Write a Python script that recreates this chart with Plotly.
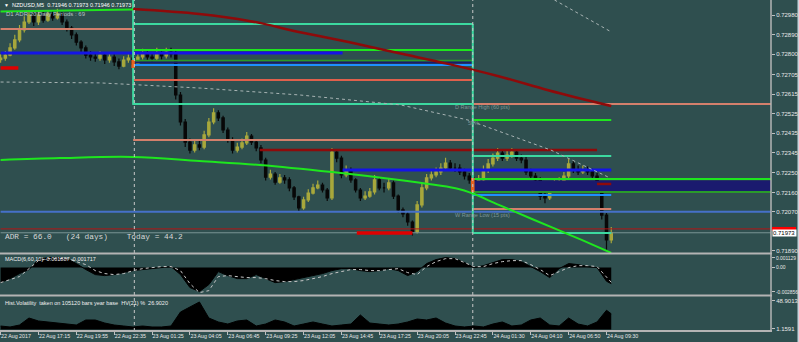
import plotly.graph_objects as go

# ---------------- data ----------------
symbol_header = "NZDUSD,M5  0.71946 0.71973 0.71946 0.71973"
adr_header = "D1 ADR 20 Daily Periods : 69"
adr_text = "ADR = 66.0   (24 days)    Today = 44.2"
macd_header = "MACD(6,60,10) -0.001887 -0.001717"
hv_header = "Hist.Volatility  taken on 105120 bars year base  HV(21) %  26.9020"

time_tick_bars = [0, 32, 64, 96, 128, 160, 192, 224, 256, 288, 320, 352, 384, 416, 448, 480, 512]
time_tick_text = ["22 Aug 2017", "22 Aug 17:15", "22 Aug 19:55", "22 Aug 22:35", "23 Aug 01:25",
                  "23 Aug 04:05", "23 Aug 06:45", "23 Aug 09:25", "23 Aug 12:05", "23 Aug 14:45",
                  "23 Aug 17:25", "23 Aug 20:05", "23 Aug 22:45", "24 Aug 01:30", "24 Aug 04:10",
                  "24 Aug 06:50", "24 Aug 09:30"]
day_separator_bars = [113, 399]

price_ticks = [0.72980, 0.72890, 0.72800, 0.72705, 0.72615, 0.72525, 0.72435, 0.72345,
               0.72250, 0.72160, 0.72070, 0.71890]
macd_ticks = [0.001129, 0.0, -0.002856]
macd_tick_text = ["0.001129", "0.00", "-0.002856"]
hv_ticks = [48.9013, 1.1591]
hv_tick_text = ["48.9013", "1.1591"]
bid_price = 0.71973
ask_price = 0.71991

candle_bars = list(range(0, 520, 4))
first_open = 0.72775
closes = [0.72782, 0.72796, 0.72829, 0.72866, 0.72912, 0.72949, 0.72981, 0.72949, 0.72981, 0.72958,
          0.72986, 0.72968, 0.72986, 0.72949, 0.72921, 0.72889, 0.72856, 0.72829, 0.72796, 0.72787,
          0.72782, 0.72796, 0.72773, 0.72787, 0.72764, 0.72745, 0.72773, 0.72782, 0.72754, 0.72787,
          0.72801, 0.72787, 0.72782, 0.72805, 0.72792, 0.72810, 0.72801, 0.72611, 0.72486, 0.72393,
          0.72356, 0.72380, 0.72370, 0.72426, 0.72486, 0.72528, 0.72505, 0.72449, 0.72403, 0.72356,
          0.72370, 0.72389, 0.72421, 0.72393, 0.72366, 0.72310, 0.72231, 0.72245, 0.72208, 0.72227,
          0.72218, 0.72181, 0.72139, 0.72088, 0.72125, 0.72157, 0.72181, 0.72194, 0.72171, 0.72134,
          0.72347, 0.72319, 0.72241, 0.72264, 0.72218, 0.72171, 0.72134, 0.72143, 0.72162, 0.72218,
          0.72181, 0.72181, 0.72204, 0.72143, 0.72079, 0.72060, 0.72023, 0.71977, 0.72102, 0.72181,
          0.72227, 0.72241, 0.72255, 0.72273, 0.72296, 0.72273, 0.72273, 0.72255, 0.72236, 0.72218,
          0.72194, 0.72218, 0.72264, 0.72292, 0.72319, 0.72342, 0.72319, 0.72333, 0.72347, 0.72319,
          0.72310, 0.72255, 0.72236, 0.72218, 0.72143, 0.72134, 0.72181, 0.72204, 0.72208, 0.72236,
          0.72292, 0.72264, 0.72255, 0.72264, 0.72255, 0.72236, 0.72181, 0.72055, 0.71940, 0.71973]
highs = [0.72800, 0.72815, 0.72850, 0.72890, 0.72935, 0.72975, 0.73005, 0.72995, 0.73000, 0.72995,
         0.73005, 0.73000, 0.73010, 0.72995, 0.72960, 0.72930, 0.72900, 0.72865, 0.72840, 0.72815,
         0.72805, 0.72815, 0.72805, 0.72805, 0.72800, 0.72780, 0.72790, 0.72800, 0.72795, 0.72805,
         0.72825, 0.72820, 0.72810, 0.72830, 0.72820, 0.72830, 0.72830, 0.72815, 0.72625, 0.72500,
         0.72410, 0.72400, 0.72400, 0.72445, 0.72505, 0.72550, 0.72540, 0.72515, 0.72460, 0.72415,
         0.72390, 0.72410, 0.72440, 0.72430, 0.72405, 0.72380, 0.72320, 0.72265, 0.72255, 0.72245,
         0.72240, 0.72230, 0.72190, 0.72145, 0.72140, 0.72175, 0.72200, 0.72215, 0.72205, 0.72180,
         0.72365, 0.72360, 0.72330, 0.72285, 0.72275, 0.72225, 0.72180, 0.72165, 0.72180, 0.72240,
         0.72230, 0.72205, 0.72225, 0.72215, 0.72150, 0.72090, 0.72070, 0.72030, 0.72120, 0.72200,
         0.72245, 0.72260, 0.72275, 0.72295, 0.72320, 0.72310, 0.72295, 0.72290, 0.72270, 0.72250,
         0.72230, 0.72240, 0.72285, 0.72315, 0.72340, 0.72365, 0.72355, 0.72355, 0.72365, 0.72360,
         0.72335, 0.72325, 0.72270, 0.72250, 0.72230, 0.72165, 0.72200, 0.72225, 0.72230, 0.72255,
         0.72315, 0.72305, 0.72285, 0.72285, 0.72280, 0.72270, 0.72250, 0.72195, 0.72065, 0.72000]
lows = [0.72760, 0.72770, 0.72790, 0.72820, 0.72855, 0.72900, 0.72940, 0.72930, 0.72935, 0.72945,
        0.72950, 0.72955, 0.72960, 0.72935, 0.72905, 0.72870, 0.72840, 0.72810, 0.72780, 0.72770,
        0.72765, 0.72770, 0.72755, 0.72760, 0.72745, 0.72730, 0.72740, 0.72760, 0.72735, 0.72745,
        0.72775, 0.72770, 0.72765, 0.72770, 0.72775, 0.72780, 0.72785, 0.72590, 0.72470, 0.72370,
        0.72340, 0.72345, 0.72355, 0.72360, 0.72415, 0.72475, 0.72490, 0.72435, 0.72390, 0.72340,
        0.72345, 0.72360, 0.72380, 0.72380, 0.72350, 0.72295, 0.72215, 0.72220, 0.72195, 0.72200,
        0.72200, 0.72165, 0.72125, 0.72070, 0.72080, 0.72115, 0.72150, 0.72175, 0.72160, 0.72120,
        0.72125, 0.72300, 0.72225, 0.72230, 0.72205, 0.72160, 0.72120, 0.72125, 0.72135, 0.72150,
        0.72170, 0.72160, 0.72170, 0.72130, 0.72065, 0.72045, 0.72005, 0.71960, 0.71970, 0.72090,
        0.72170, 0.72215, 0.72230, 0.72240, 0.72260, 0.72260, 0.72255, 0.72240, 0.72220, 0.72200,
        0.72175, 0.72180, 0.72205, 0.72250, 0.72280, 0.72305, 0.72305, 0.72305, 0.72320, 0.72305,
        0.72295, 0.72240, 0.72220, 0.72200, 0.72125, 0.72110, 0.72125, 0.72170, 0.72190, 0.72195,
        0.72225, 0.72250, 0.72240, 0.72245, 0.72240, 0.72220, 0.72165, 0.72035, 0.71895, 0.71925]

# moving-average style curves (bar index, price)
maroon_ma_bars = [112, 168, 210, 252, 294, 336, 378, 420, 462, 488, 516]
maroon_ma = [0.73009, 0.72986, 0.72954, 0.72903, 0.72856, 0.72805, 0.72755, 0.72699, 0.72634, 0.72597, 0.72560]
lime_top_bars = [0, 112]
lime_top = [0.72998, 0.73007]
lime_ma_bars = [0, 50, 112, 168, 219, 280, 337, 387, 398, 421, 449, 472, 491, 516]
lime_ma = [0.72310, 0.72319, 0.72324, 0.72305, 0.72287, 0.72254, 0.72217, 0.72176, 0.72157,
           0.72102, 0.72037, 0.71984, 0.71940, 0.71880]
trend_bars = [0, 84, 169, 253, 338, 395, 465, 515]
trend = [0.72671, 0.72667, 0.72643, 0.72611, 0.72565, 0.72495, 0.72356, 0.72227]
trend2_bars = [468, 516]
trend2 = [0.73051, 0.72903]

# horizontal levels (price, first bar, last bar)
level_price = [0.72917, 0.72805, 0.72819, 0.72769, 0.72762, 0.72750, 0.72680, 0.72940, 0.72569,
               0.72569, 0.72403, 0.72356, 0.72264, 0.72495, 0.72329, 0.72222, 0.72162, 0.72199,
               0.72148, 0.72083, 0.72070, 0.71991, 0.71973, 0.71972, 0.72736, 0.71972]
level_from = [0, 0, 112, 112, 112, 112, 112, 112, 112, 399, 112, 219, 289, 399, 399, 399, 399, 504,
              399, 399, 0, 0, 0, 301, 0, 399]
level_to = [112, 289, 399, 399, 399, 399, 399, 399, 399, 651, 399, 504, 516, 516, 516, 651, 651, 516,
            516, 516, 651, 651, 651, 348, 15, 516]
band_top, band_bottom, band_from, band_to = 0.72215, 0.72164, 399, 651

# vertical box edges and day-open markers (bar, price from, price to)
box_edge_bar = [112, 399]
box_edge_lo = [0.72565, 0.71972]
box_edge_hi = [0.73051, 0.72940]
open_mark_bar = [112, 399]
open_mark_lo = [0.72736, 0.72162]
open_mark_hi = [0.72773, 0.72227]

level_labels = ["D Range High (60 pts)", "50%", "W Range Low (15 pts)"]
level_label_bar = [382, 393, 382]
level_label_price = [0.72557, 0.72481, 0.72055]

ind_bars = list(range(0, 513, 8)) + [516]
macd_main = [-0.00176, -0.00129, -0.00070, -0.00023, 0.00094, 0.00117, 0.00117, 0.00105, 0.00047, -0.00023,
             -0.00082, -0.00094, -0.00082, -0.00059, -0.00035, -0.00023, -0.00012, 0.0, 0.00012, -0.00082,
             -0.00234, -0.00281, -0.00199, -0.00047, -0.00094, -0.00129, -0.00129, -0.00082, -0.00129, -0.00176,
             -0.00164, -0.00141, -0.00117, -0.00094, -0.00070, -0.00035, -0.00012, -0.00012, -0.00035, -0.00047,
             -0.00035, -0.00012, -0.00035, -0.00094, -0.00047, 0.00047, 0.00094, 0.00117, 0.00105, 0.00059,
             0.0, 0.00023, 0.00059, 0.00094, 0.00094, 0.00070, 0.00012, -0.00047, -0.00117, -0.00012,
             0.00047, 0.00035, 0.00012, 0.0, -0.00160, -0.00189]
macd_signal = [-0.00176, -0.00141, -0.00105, -0.00012, 0.00082, 0.00105, 0.00105, 0.00105, 0.00070, 0.00035,
               -0.00035, -0.00070, -0.00082, -0.00070, -0.00035, -0.00012, 0.0, 0.00012, 0.00012, -0.00035,
               -0.00188, -0.00293, -0.00270, -0.00105, -0.00094, -0.00105, -0.00117, -0.00117, -0.00129, -0.00152,
               -0.00164, -0.00164, -0.00152, -0.00129, -0.00105, -0.00070, -0.00047, -0.00023, -0.00023, -0.00035,
               -0.00035, -0.00023, -0.00012, -0.00059, -0.00082, 0.00012, 0.00070, 0.00105, 0.00105, 0.00059,
               0.00012, 0.00012, 0.00047, 0.00070, 0.00082, 0.00082, 0.00035, -0.00023, -0.00094, -0.00047,
               0.0, 0.00023, 0.00023, 0.00012, -0.00105, -0.00172]
hv = [6.0, 4.3, 7.7, 19.7, 14.6, 12.9, 11.1, 9.4, 7.7, 16.3,
      16.3, 11.1, 7.7, 6.0, 4.3, 6.0, 4.3, 4.3, 6.0, 30.0,
      38.6, 47.2, 19.7, 12.9, 9.4, 14.6, 16.3, 6.0, 9.4, 16.3,
      12.9, 6.0, 9.4, 12.9, 9.4, 6.0, 7.7, 9.4, 24.9, 11.1,
      9.4, 7.7, 9.4, 12.9, 18.0, 16.3, 19.7, 11.1, 6.0, 4.3,
      6.0, 4.3, 9.4, 12.9, 6.0, 7.7, 16.3, 19.7, 7.7, 6.0,
      19.7, 9.4, 6.0, 12.9, 33.0, 26.9]

# ---------------- styling ----------------
W, H = 799, 342
BG = "#2F4F4F"
PLOT_RIGHT = 771
SANS = "Liberation Sans"
LIME, AQUA, SALMON, TOMATO = "#1EE61E", "#3CD9A0", "#D4806C", "#E0604C"
MAROON, BLUE, DODGER, ROYAL = "#8E0A0A", "#1414E6", "#1E90FF", "#4670C8"
GREEN, NAVY, RED, THINRED, BIDGRAY = "#2A9A2A", "#1A1A6E", "#E00000", "#B41414", "#7A9494"
level_style = [(SALMON, 2), (BLUE, 3), (LIME, 2), (GREEN, 2), (NAVY, 2), (DODGER, 2), (TOMATO, 2),
               (AQUA, 2), (AQUA, 2), (SALMON, 2), (SALMON, 2), (MAROON, 2.5), (BLUE, 3), (LIME, 2),
               (AQUA, 2), (LIME, 2), (GREEN, 2), (MAROON, 2.5), (DODGER, 2), (SALMON, 2), (ROYAL, 2),
               (THINRED, 1), (BIDGRAY, 1), (RED, 3.5), (RED, 3.5), (AQUA, 2)]


def py(p):
    return 1 - p / H


def px(p):
    return p / W


opens = [first_open] + closes[:-1]
fig = go.Figure()

# navy zone behind candles
fig.add_trace(go.Scatter(x=[band_from, band_to, band_to, band_from, band_from],
                         y=[band_top, band_top, band_bottom, band_bottom, band_top],
                         fill="toself", fillcolor=NAVY, line=dict(width=0), mode="lines",
                         hoverinfo="skip", showlegend=False))

fig.add_trace(go.Candlestick(x=candle_bars, open=opens, high=highs, low=lows, close=closes,
                             increasing=dict(line=dict(color="#A8A83C", width=1.2), fillcolor="#A8A83C"),
                             decreasing=dict(line=dict(color="#080808", width=1.2), fillcolor="#080808"),
                             whiskerwidth=0, hoverinfo="skip", showlegend=False))

for p, a, b, (c, w) in zip(level_price, level_from, level_to, level_style):
    fig.add_trace(go.Scatter(x=[a, b], y=[p, p], mode="lines", line=dict(color=c, width=w),
                             hoverinfo="skip", showlegend=False))

for bx, lo, hi in zip(box_edge_bar, box_edge_lo, box_edge_hi):
    fig.add_trace(go.Scatter(x=[bx, bx], y=[lo, hi], mode="lines", line=dict(color=AQUA, width=2),
                             hoverinfo="skip", showlegend=False))
for bx, lo, hi in zip(open_mark_bar, open_mark_lo, open_mark_hi):
    fig.add_trace(go.Scatter(x=[bx, bx], y=[lo, hi], mode="lines", line=dict(color="#E8621E", width=3.5),
                             hoverinfo="skip", showlegend=False))

fig.add_trace(go.Scatter(x=trend_bars, y=trend, mode="lines",
                         line=dict(color="#A8B4B4", width=1, dash="dot"), hoverinfo="skip", showlegend=False))
fig.add_trace(go.Scatter(x=trend2_bars, y=trend2, mode="lines",
                         line=dict(color="#A8B4B4", width=1, dash="dot"), hoverinfo="skip", showlegend=False))
fig.add_trace(go.Scatter(x=lime_ma_bars, y=lime_ma, mode="lines", line=dict(color=LIME, width=2, shape="spline"),
                         hoverinfo="skip", showlegend=False))
fig.add_trace(go.Scatter(x=lime_top_bars, y=lime_top, mode="lines", line=dict(color=LIME, width=2),
                         hoverinfo="skip", showlegend=False))
fig.add_trace(go.Scatter(x=maroon_ma_bars, y=maroon_ma, mode="lines",
                         line=dict(color=MAROON, width=2.5, shape="spline"), hoverinfo="skip", showlegend=False))

# MACD
fig.add_trace(go.Scatter(x=ind_bars, y=macd_main, mode="lines", fill="tozeroy", fillcolor="#000000",
                         line=dict(color="#000000", width=1), yaxis="y2", hoverinfo="skip", showlegend=False))
fig.add_trace(go.Scatter(x=ind_bars, y=macd_signal, mode="lines", line=dict(color="#C8C8C8", width=1, dash="dot"),
                         yaxis="y2", hoverinfo="skip", showlegend=False))
# Historical volatility
fig.add_trace(go.Scatter(x=ind_bars, y=hv, mode="lines", fill="tozeroy", fillcolor="#000000",
                         line=dict(color="#000000", width=1), yaxis="y3", hoverinfo="skip", showlegend=False))

shapes = []
for b in day_separator_bars:
    shapes.append(dict(type="line", xref="x", yref="paper", x0=b, x1=b, y0=py(331), y1=1,
                       line=dict(color="#C8C8C8", width=1, dash="dot")))
for yy in (253.5, 295.5, 331):
    shapes.append(dict(type="line", xref="paper", yref="paper", x0=0, x1=px(PLOT_RIGHT + 1), y0=py(yy), y1=py(yy),
                       line=dict(color="#B4B4B4", width=2)))
shapes.append(dict(type="line", xref="paper", yref="paper", x0=px(PLOT_RIGHT), x1=px(PLOT_RIGHT), y0=py(331), y1=1,
                   line=dict(color="#B4B4B4", width=1.5)))
shapes.append(dict(type="rect", xref="paper", yref="paper", x0=px(797.5), x1=1, y0=0, y1=1, layer="below",
                   fillcolor="#C8D4DC", line=dict(width=0)))
# red ask-price marker box behind the bid label
shapes.append(dict(type="rect", xref="paper", yref="y", x0=px(772), x1=px(796), y0=ask_price - 0.00009,
                   y1=ask_price + 0.00009, fillcolor="#FF0000", line=dict(width=0)))

ann = []


def text(x, y, s, size=5.5, color="#F0F0F0", family=SANS, anchor="left"):
    ann.append(dict(xref="paper", yref="paper", x=px(x), y=py(y), text=s, showarrow=False,
                    xanchor=anchor, yanchor="middle", font=dict(family=family, size=size, color=color)))


text(2, 5, "▼", size=5, color="#FFFFFF")
text(10, 5, symbol_header.replace(" ", "\u00a0"), size=5.5, color="#FFFFFF")
text(4, 14, adr_header.replace(" ", "\u00a0"), size=6, color="#B8C4C4")
text(3, 236.5, adr_text.replace(" ", "\u00a0"), size=7.8, color="#D8D8D8", family="Liberation Mono")
text(3, 259, macd_header.replace(" ", "\u00a0"), size=5.5)
text(3, 303, hv_header.replace(" ", "\u00a0"), size=5.5)

for s, b, p in zip(level_labels, level_label_bar, level_label_price):
    ann.append(dict(xref="x", yref="y", x=b, y=p, text=s.replace(" ", "\u00a0"), showarrow=False, xanchor="left",
                    yanchor="middle", font=dict(family=SANS, size=5.5, color="#7E9696")))

ann.append(dict(xref="paper", yref="y", x=px(772), y=bid_price, text="0.71973\u00a0", showarrow=False,
                xanchor="left", yanchor="middle", bgcolor="#FFFFFF", borderpad=0,
                font=dict(family=SANS, size=6, color="#000000")))

axis_font = dict(family=SANS, size=6, color="#E8E8E8")
small_axis_font = dict(family=SANS, size=4.9, color="#E8E8E8")
yaxis_common = dict(side="right", anchor="x", showgrid=False, zeroline=False, ticks="outside", ticklen=3,
                    tickcolor="#C0C0C0", showline=False, fixedrange=True, automargin=False)

fig.update_layout(
    width=W, height=H, margin=dict(l=0, r=0, t=0, b=0, autoexpand=False),
    paper_bgcolor=BG, plot_bgcolor=BG, showlegend=False, hovermode=False,
    xaxis=dict(domain=[0, px(PLOT_RIGHT)], range=[-0.5, 651], anchor="y3", showgrid=False, zeroline=False,
               tickvals=time_tick_bars, ticktext=time_tick_text, ticks="outside", ticklen=3, tickcolor="#C0C0C0",
               tickfont=dict(family=SANS, size=5.3, color="#E8E8E8"), ticklabelposition="outside right",
               tickangle=0, automargin=False,
               showline=False, rangeslider=dict(visible=False), fixedrange=True),
    yaxis=dict(domain=[py(253), 1], range=[0.718794, 0.730508], tickvals=price_ticks,
               ticktext=[f"{v:.5f}" for v in price_ticks], tickfont=axis_font, **yaxis_common),
    yaxis2=dict(domain=[py(295), py(255)], range=[-0.003211, 0.001477], tickvals=macd_ticks,
                ticktext=macd_tick_text, tickfont=small_axis_font, **yaxis_common),
    yaxis3=dict(domain=[py(331), py(297)], range=[-2.57, 55.7], tickvals=hv_ticks,
                ticktext=hv_tick_text, tickfont=axis_font, **yaxis_common),
    shapes=shapes, annotations=ann,
)

fig.write_html("out.html")
